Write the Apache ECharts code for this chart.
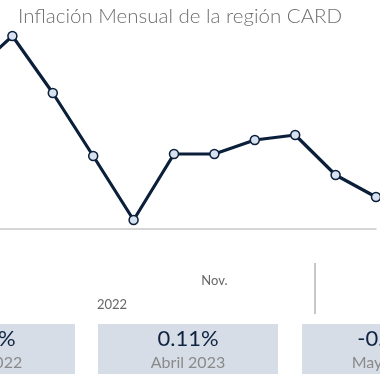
<!DOCTYPE html>
<html><head><meta charset="utf-8">
<script src="https://cdn.jsdelivr.net/npm/echarts@6/dist/echarts.min.js"></script>
<style>html,body{margin:0;padding:0;background:#fff}#c{width:380px;height:380px}</style>
</head><body><div id="c"></div>
<script>
const categories = ['May.', 'Jun.', 'Jul.', 'Ago.', 'Sep.', 'Oct.', 'Nov.', 'Dic.', 'Ene.', 'Feb.', 'Mar.'];
const tickLabels = ['', '', '', '', '', '', 'Nov.', '', '', '', ''];
const inflation = [1.56, 1.93, 1.36, 0.73, 0.09, 0.75, 0.75, 0.89, 0.94, 0.54, 0.32];
const yearLabel = '2022';
const boxValues = ['0.68%', '0.11%', '-0.05%'];
const boxLabels = ['Abril 2022', 'Abril 2023', 'Mayo 2023'];
const title = 'Inflación Mensual de la región CARD';

const FONT = 'Lato, "Open Sans", sans-serif';
const chart = echarts.init(document.getElementById('c'), null, {renderer: 'canvas'});

const graphics = [];
const boxLefts = [-105, 98, 302];
boxValues.forEach((v, i) => {
  const cx = boxLefts[i] + 90;
  graphics.push({type: 'rect', shape: {x: boxLefts[i], y: 324, width: 180, height: 50}, style: {fill: '#d6dde6'}, z: 1});
  graphics.push({type: 'text', x: cx, y: 339, style: {text: v, font: '22px ' + FONT, fill: '#0e2341', textAlign: 'center', textVerticalAlign: 'middle'}, z: 2});
  graphics.push({type: 'text', x: cx, y: 363, style: {text: boxLabels[i], font: '16px ' + FONT, fill: '#8a8a8a', textAlign: 'center', textVerticalAlign: 'middle'}, z: 2});
});
graphics.push({type: 'text', x: 97, y: 305, style: {text: yearLabel, font: '13px ' + FONT, fill: '#666', textAlign: 'left', textVerticalAlign: 'middle'}});
graphics.push({type: 'line', shape: {x1: 315, y1: 263, x2: 315, y2: 314}, style: {stroke: '#b5b5b5', lineWidth: 1.5}});

chart.setOption({
  animation: false,
  title: {text: title, left: 13, top: 1, textStyle: {fontFamily: FONT, fontSize: 20.5, fontWeight: 300, color: '#6e6e6e'}},
  grid: {left: -28, right: 4, top: 29, bottom: 151, containLabel: false, outerBoundsMode: 'none'},
  xAxis: {
    type: 'category', data: categories, boundaryGap: false,
    axisLine: {lineStyle: {color: '#c9c9c9', width: 1.5}},
    axisTick: {show: false},
    axisLabel: {margin: 45, fontSize: 13, fontFamily: FONT, color: '#666', interval: 0,
      formatter: (v, i) => tickLabels[i]}
  },
  yAxis: {type: 'value', min: 0, max: 2, show: false, splitLine: {show: false}},
  series: [{
    type: 'line', data: inflation, symbol: 'circle', symbolSize: 9,
    lineStyle: {color: '#0b1f3a', width: 3.2},
    itemStyle: {color: '#d7e1f0', borderColor: '#0b1f3a', borderWidth: 1.5}
  }],
  graphic: graphics
});
</script></body></html>
